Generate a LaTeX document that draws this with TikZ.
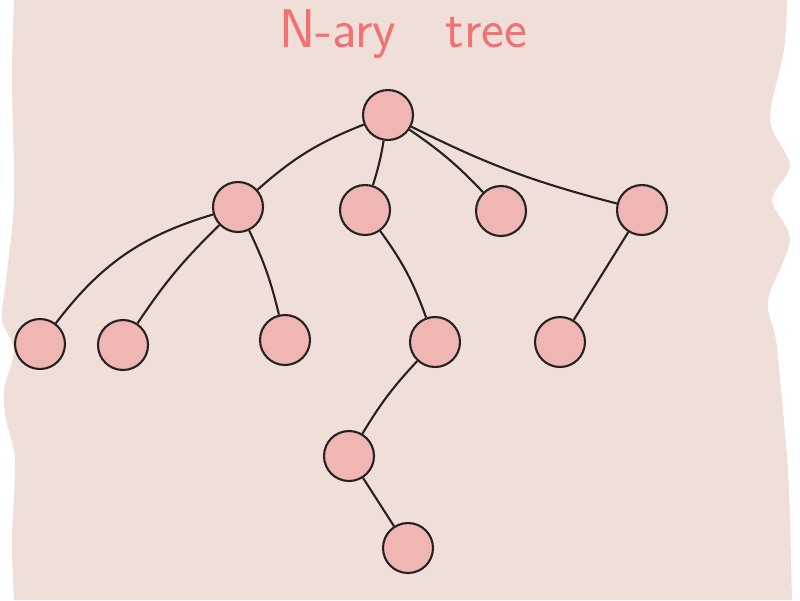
\documentclass[tikz,border=0pt]{standalone}
\usetikzlibrary{calc}
\definecolor{paper}{HTML}{F0DFD8}
\definecolor{nodefill}{HTML}{EFB6B4}
\definecolor{titlered}{HTML}{F07272}
\definecolor{ink}{HTML}{262222}

\begin{document}
\begin{tikzpicture}[x=0.02cm,y=-0.02cm,
  vertex/.style={circle,draw=ink,fill=nodefill,line width=1.2pt,minimum size=1cm,inner sep=0pt},
  branch/.style={draw=ink,line width=1.2pt}]
\useasboundingbox (0,0) rectangle (800,600);
% paper with torn edges
\fill[paper] plot[smooth] coordinates {(14,0) (12,80) (14,200) (6,280) (2,320) (14,350) (4,390) (6,420) (15,460) (12,540) (14,600)}
  -- plot[smooth] coordinates {(792,600) (790,520) (788,470) (782,400) (776,340) (768,300) (790,240) (772,200) (790,165) (770,120) (784,50) (787,0)} -- cycle;
\node[titlered,font=\sffamily\fontsize{31}{35}\selectfont,anchor=base] (title) at (403,47) {N-ary\hspace{28pt}tree};
% the tree
\node[vertex] (root) at (388,115) {};
\node[vertex] (a) at (238,207) {};
\node[vertex] (b) at (365,210) {};
\node[vertex] (c) at (501,211) {};
\node[vertex] (d) at (642,210) {};
\node[vertex] (aa) at (40,344) {};
\node[vertex] (ab) at (123,345) {};
\node[vertex] (ac) at (285,340) {};
\node[vertex] (ba) at (435,342) {};
\node[vertex] (da) at (560,342) {};
\node[vertex] (baa) at (349,456) {};
\node[vertex] (baaa) at (408,548) {};
\draw[branch] (root) to[bend right=10] (a);
\draw[branch] (root) to[bend left=4] (b);
\draw[branch] (root) to[bend left=6] (c);
\draw[branch] (root) to[bend right=6] (d);
\draw[branch] (a) to[bend right=18] (aa);
\draw[branch] (a) to[bend right=6] (ab);
\draw[branch] (a) to[bend left=6] (ac);
\draw[branch] (b) to[bend left=8] (ba);
\draw[branch] (d) to (da);
\draw[branch] (ba) to[bend right=6] (baa);
\draw[branch] (baa) to (baaa);
\end{tikzpicture}
\end{document}
